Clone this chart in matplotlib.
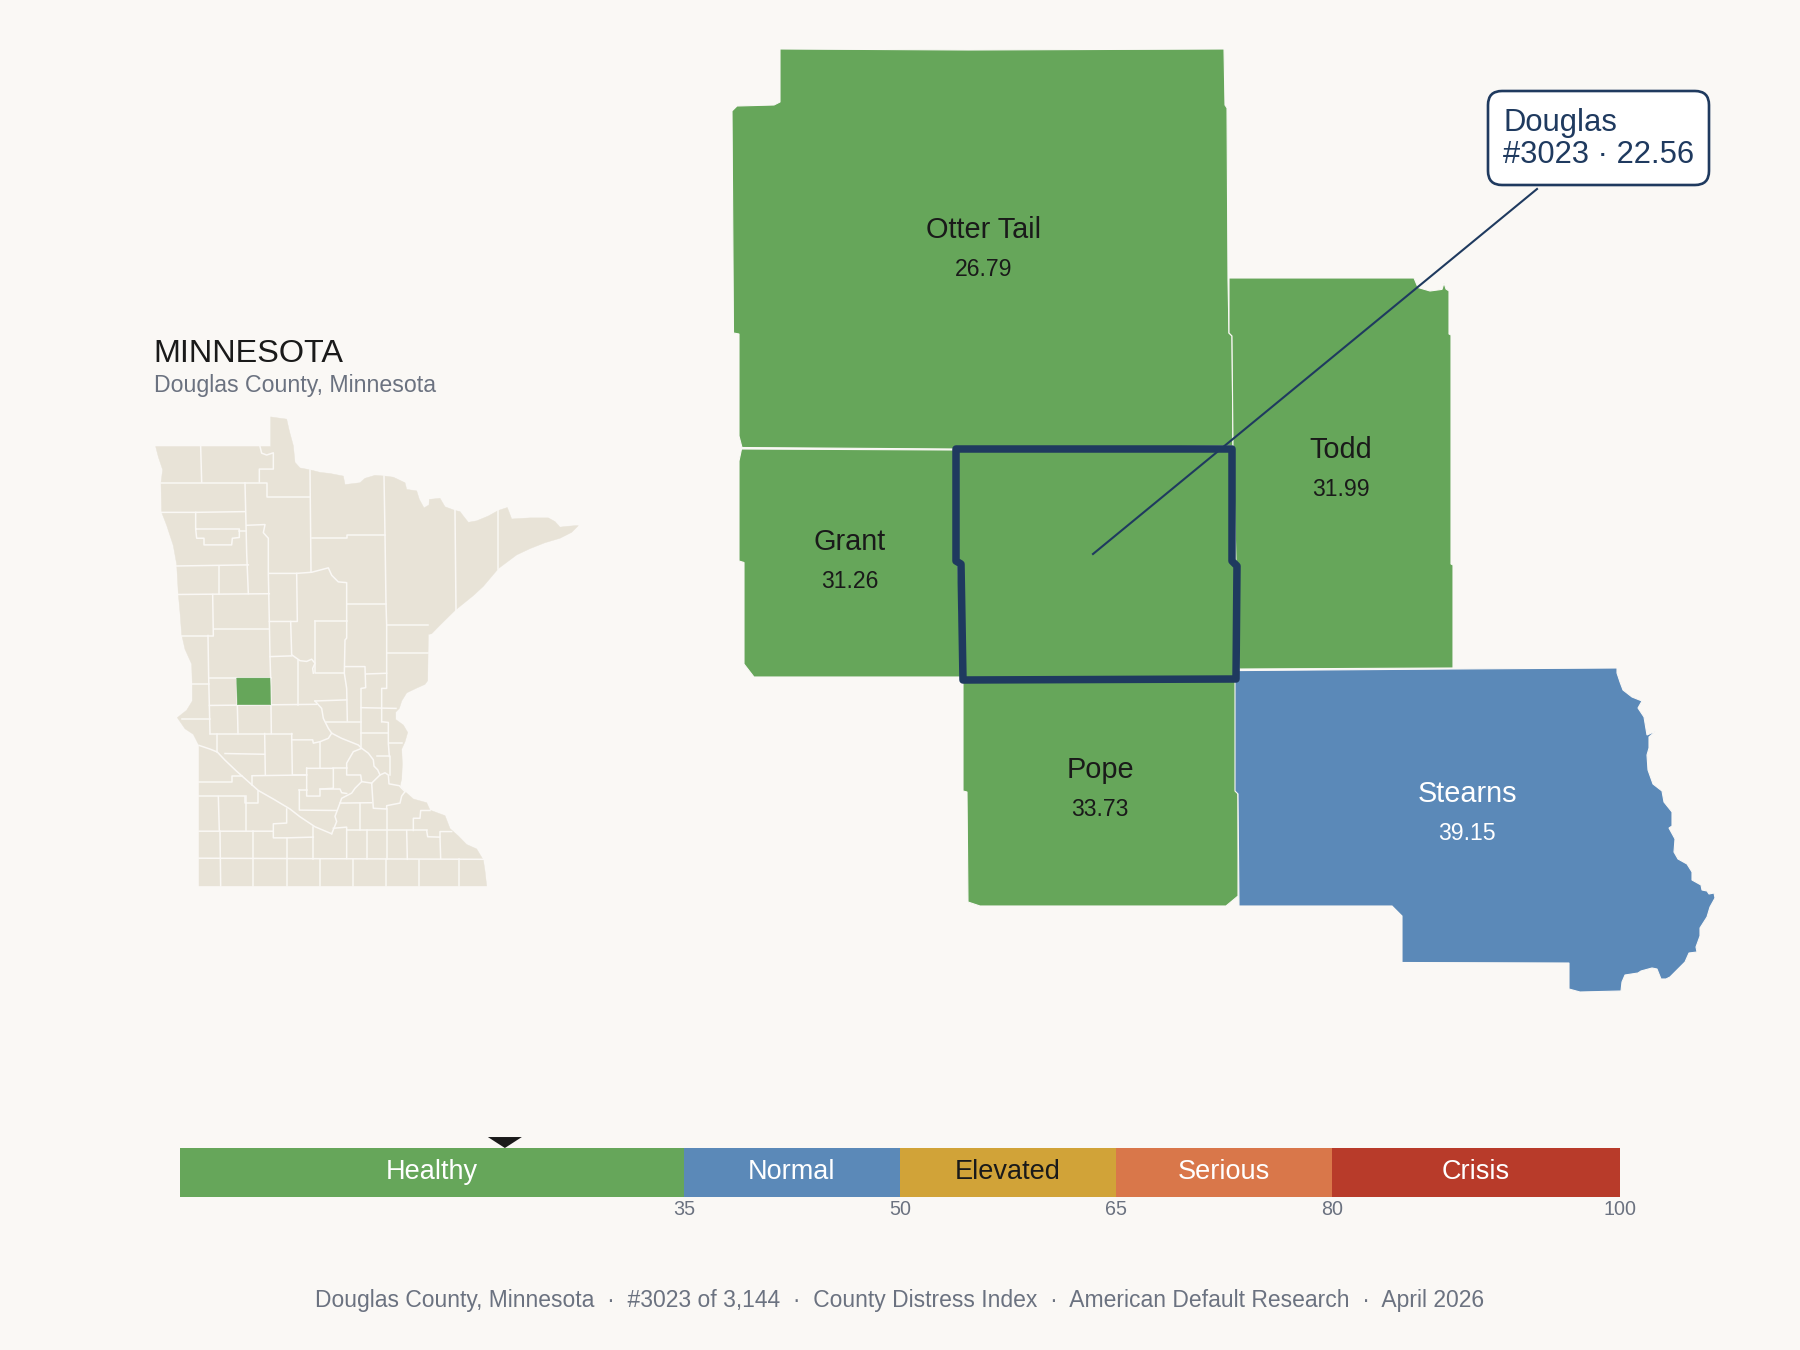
import matplotlib
matplotlib.use('Agg')
import matplotlib.pyplot as plt
from matplotlib.patches import FancyBboxPatch

plt.rcParams['font.family'] = ['Liberation Sans', 'DejaVu Sans']

BG = '#faf8f5'
LAND = '#e8e3d7'
GREEN = '#66a65a'
BLUE = '#5b89b8'
GOLD = '#d1a338'
ORANGE = '#d9774a'
RED = '#b83b2a'
NAVY = '#1f3a5f'
GRAY = '#6b7280'
INK = '#1a1a1a'

# ---------- distress scale ----------
band_names = ['Healthy', 'Normal', 'Elevated', 'Serious', 'Crisis']
band_breaks = [0, 35, 50, 65, 80, 100]
band_colors = [GREEN, BLUE, GOLD, ORANGE, RED]
band_text = ['white', 'white', INK, 'white', 'white']
douglas_score = 22.56

# ---------- neighbouring counties (outline vertices) ----------
otter_tail = [(780, 49), (968, 50), (1224, 49), (1225, 105), (1227, 108), (1228, 280), (1229, 333),
              (1232, 336), (1233, 446), (955, 449), (742, 447.5), (739, 436), (739, 334), (733.5, 333),
              (732, 111), (737, 106), (774, 105), (780, 102)]
todd = [(1229, 278), (1414, 278), (1418, 287.5), (1430, 291), (1442, 289.4), (1444, 283), (1446, 289),
        (1449, 291), (1449, 334), (1451, 335), (1451, 564), (1453, 565), (1453, 668), (1239, 669),
        (1236, 561), (1233, 446), (1232, 336), (1229, 333)]
grant = [(741.5, 449), (955, 450), (958, 561), (961, 677), (754, 677), (744, 664), (744, 562.5),
         (739, 561), (739, 461)]
douglas = [(956, 449), (1232, 449), (1232, 561), (1237, 566), (1236, 679), (963, 680), (961, 564), (956, 561)]
pope = [(963, 681), (1236, 681), (1238, 799), (1238, 896), (1226, 906), (1102, 906), (980, 906),
        (968, 902), (967, 792), (963, 791)]
stearns = [(1235, 670.6), (1454, 669), (1617, 668), (1617, 673), (1620, 682), (1623, 690), (1632, 697),
           (1642, 701), (1638, 708), (1644, 717), (1647, 735), (1656, 731), (1649, 737), (1649, 748),
           (1647, 755), (1648, 770), (1653, 784), (1662, 791), (1664, 802), (1672, 812), (1672, 826),
           (1669, 828), (1675, 839), (1674, 852), (1678, 859), (1687, 864), (1692, 872), (1692, 880),
           (1701, 885), (1702, 890), (1707, 891), (1709, 894), (1714, 893), (1715, 898), (1710, 907),
           (1707, 917), (1700, 928), (1700, 936), (1696, 947), (1697, 952), (1689, 953), (1685, 962),
           (1670, 977), (1666, 979), (1661, 979), (1657, 969), (1652, 968), (1641, 971), (1638, 973),
           (1625, 975), (1622, 982), (1621, 991), (1580, 992), (1569, 989), (1569, 963), (1402, 962.5),
           (1402, 916), (1392, 906), (1239, 906), (1238, 794), (1235, 791)]

county_names = ['Otter Tail', 'Todd', 'Grant', 'Pope', 'Stearns']
county_scores = [26.79, 31.99, 31.26, 33.73, 39.15]
county_shapes = [otter_tail, todd, grant, pope, stearns]
county_colors = [GREEN, GREEN, GREEN, GREEN, BLUE]
county_text = [INK, INK, INK, INK, 'white']
county_centers = [(984, 230), (1341, 450.5), (850, 542), (1100, 770.5), (1467, 794)]

# ---------- state locator map (map units) ----------
state_outline = [(77, 342), (422, 342), (422, 262), (445, 265), (470, 268), (478, 300), (490, 340), (495, 385),
                 (510, 400), (540, 405), (570, 412), (600, 415), (640, 422), (645, 445), (690, 440), (705, 428),
                 (735, 420), (765, 422), (790, 425), (825, 440), (830, 458), (860, 462), (868, 485), (882, 508),
                 (897, 500), (898, 485), (930, 482), (945, 505), (975, 515), (990, 518), (1000, 530), (1015, 547),
                 (1040, 543), (1075, 530), (1105, 515), (1132, 507), (1145, 538), (1200, 535), (1255, 535),
                 (1275, 545), (1290, 560), (1310, 558), (1335, 556), (1345, 556), (1325, 574), (1290, 590),
                 (1245, 602), (1200, 618), (1160, 635), (1105, 672), (1060, 720), (1030, 745), (975, 785),
                 (930, 825), (905, 848), (895, 850), (893, 975), (885, 985), (860, 995), (830, 1008), (815, 1030),
                 (808, 1050), (797, 1060), (797, 1080), (820, 1095), (833, 1115), (825, 1140), (815, 1160),
                 (817, 1200), (815, 1240), (810, 1260), (825, 1275), (850, 1295), (890, 1305), (900, 1325),
                 (945, 1340), (960, 1375), (985, 1395), (1010, 1418), (1040, 1430), (1060, 1460), (1065, 1490),
                 (1070, 1530), (207, 1530), (207, 1150), (190, 1120), (165, 1105), (142, 1075), (170, 1055),
                 (187, 1030), (187, 985), (185, 930), (165, 890), (155, 850), (150, 790), (145, 740), (140, 660),
                 (130, 610), (110, 555), (95, 520), (93, 440), (98, 405), (85, 370)]
douglas_on_state = [(320, 968), (420, 968), (422, 1040), (322, 1040)]

county_lines = [
    [(212, 342), (215, 438)],
    [(93, 440), (412, 440), (412, 478), (540, 478)],
    [(388, 438), (388, 403), (430, 403), (430, 359), (410, 365), (395, 360), (390, 342)],
    [(540, 405), (543, 680)],
    [(345, 440), (348, 552), (350, 630), (355, 740)],
    [(95, 520), (197, 520), (345, 518)],
    [(197, 520), (197, 565), (200, 590), (222, 590), (222, 608), (305, 608), (307, 590), (328, 588), (328, 565), (200, 565)],
    [(328, 570), (348, 570)],
    [(350, 555), (405, 553), (400, 575), (415, 590), (415, 685), (418, 815), (420, 910), (422, 968), (424, 1118)],
    [(140, 665), (355, 662)],
    [(268, 665), (268, 740)],
    [(145, 742), (418, 740)],
    [(248, 742), (250, 853)],
    [(155, 853), (250, 853)],
    [(252, 835), (418, 835)],
    [(234, 853), (236, 968), (238, 1040), (240, 1118)],
    [(236, 968), (422, 968)],
    [(187, 985), (236, 985)],
    [(320, 968), (322, 1040), (324, 1118)],
    [(238, 1042), (560, 1039)],
    [(155, 1080), (240, 1080)],
    [(240, 1118), (485, 1118)],
    [(207, 1150), (240, 1160), (262, 1168), (285, 1190), (320, 1220), (345, 1240), (385, 1272), (430, 1295),
     (480, 1322), (510, 1343), (540, 1361), (555, 1370), (605, 1389)],
    [(262, 1118), (262, 1168)],
    [(285, 1172), (404, 1174)],
    [(404, 1118), (406, 1230)],
    [(485, 1118), (487, 1230), (530, 1230)],
    [(485, 1135), (548, 1135), (550, 1144), (570, 1140), (595, 1131), (605, 1117)],
    [(570, 1140), (570, 1212)],
    [(530, 1212), (610, 1212), (610, 1266), (570, 1268), (570, 1287), (530, 1287), (530, 1212)],
    [(610, 1212), (650, 1212)],
    [(570, 1268), (630, 1268), (635, 1278), (650, 1280)],
    [(367, 1232), (530, 1230)],
    [(367, 1232), (367, 1258)],
    [(207, 1250), (305, 1250), (305, 1232), (335, 1232)],
    [(207, 1288), (345, 1288), (345, 1305), (385, 1305), (385, 1272)],
    [(265, 1288), (268, 1382)],
    [(348, 1288), (348, 1382)],
    [(207, 1382), (430, 1382), (430, 1400), (470, 1400), (550, 1398)],
    [(470, 1322), (470, 1360), (430, 1362), (430, 1382)],
    [(508, 1270), (508, 1325), (620, 1326)],
    [(508, 1270), (530, 1270)],
    [(555, 1030), (650, 1027)],
    [(555, 1030), (575, 1050), (580, 1077), (595, 1104), (605, 1117), (635, 1131), (685, 1149), (695, 1158),
     (715, 1171), (730, 1189), (732, 1206), (743, 1216), (750, 1230), (765, 1224), (775, 1230), (777, 1254),
     (808, 1259), (825, 1275)],
    [(588, 1086), (693, 1086)],
    [(693, 1048), (798, 1050)],
    [(693, 1117), (775, 1117)],
    [(755, 1086), (775, 1088), (775, 1144), (778, 1180)],
    [(778, 1144), (815, 1144)],
    [(740, 1180), (780, 1180), (780, 1230)],
    [(750, 1230), (725, 1252), (730, 1320), (770, 1322), (770, 1313), (810, 1306), (815, 1287), (825, 1275)],
    [(695, 1158), (670, 1167), (650, 1198), (650, 1230), (692, 1230), (695, 1248)],
    [(725, 1252), (695, 1248), (675, 1266), (665, 1279), (635, 1293), (630, 1306), (725, 1305)],
    [(630, 1306), (615, 1342), (620, 1356), (605, 1389)],
    [(550, 1370), (550, 1456)],
    [(610, 1374), (650, 1371), (650, 1456)],
    [(690, 1306), (690, 1380)],
    [(650, 1380), (890, 1380)],
    [(770, 1322), (770, 1456)],
    [(850, 1380), (850, 1347), (870, 1347), (872, 1326), (900, 1326)],
    [(890, 1380), (893, 1397), (930, 1398), (930, 1383), (965, 1383)],
    [(930, 1398), (932, 1456)],
    [(710, 1380), (710, 1456)],
    [(830, 1380), (832, 1458)],
    [(207, 1455), (1060, 1458)],
    [(270, 1382), (272, 1530)],
    [(370, 1382), (370, 1530)],
    [(470, 1400), (470, 1530)],
    [(571, 1458), (571, 1530)],
    [(670, 1458), (670, 1530)],
    [(769, 1458), (769, 1530)],
    [(868, 1460), (868, 1530)],
    [(988, 1458), (988, 1530)],
    [(418, 685), (500, 685), (545, 682), (595, 670), (605, 690), (625, 708), (650, 710), (650, 860), (645, 865),
     (643, 955), (650, 996), (652, 1084)],
    [(500, 685), (502, 815), (418, 815)],
    [(482, 815), (485, 905), (510, 921), (530, 923), (545, 917), (555, 928), (548, 942), (550, 955)],
    [(420, 910), (485, 908)],
    [(505, 918), (505, 1040)],
    [(555, 815), (650, 815)],
    [(555, 815), (555, 955), (643, 955)],
    [(650, 767), (768, 767)],
    [(545, 590), (650, 590), (650, 580), (764, 580)],
    [(762, 422), (765, 580), (768, 767), (770, 825), (770, 996), (755, 996), (755, 1086)],
    [(770, 825), (893, 825)],
    [(770, 899), (893, 899)],
    [(645, 937), (705, 937), (707, 994), (693, 996), (693, 1153)],
    [(707, 957), (770, 955)],
    [(975, 515), (978, 785)],
    [(1105, 515), (1105, 672)],
]

title = 'MINNESOTA'
subtitle = 'Douglas County, Minnesota'
callout = 'Douglas\n#3023 · 22.56'
footer = ('Douglas County, Minnesota  ·  #3023 of 3,144  ·  County Distress Index  ·  '
          'American Default Research  ·  April 2026')

W, H = 1800, 1350
fig = plt.figure(figsize=(W / 100, H / 100), dpi=100, facecolor=BG)


def px_axes(x, y, w, h):
    # axes placed by its pixel rectangle, y measured from the top
    return fig.add_axes([x / W, 1 - (y + h) / H, w / W, h / H])


# main canvas for the neighbour map
ax = px_axes(0, 0, W, H)
ax.set_xlim(0, W)
ax.set_ylim(H, 0)
ax.axis('off')

for shape, col in zip(county_shapes, county_colors):
    xs, ys = zip(*shape)
    ax.fill(xs, ys, facecolor=col, edgecolor=BG, lw=0.8, zorder=2)
xs, ys = zip(*douglas)
ax.fill(xs, ys, facecolor=GREEN, edgecolor=NAVY, lw=5.4, joinstyle='round', zorder=3)

for name, score, (cx, cy), col in zip(county_names, county_scores, county_centers, county_text):
    ax.text(cx, cy, name, ha='center', va='center', fontsize=20.8, color=col, zorder=5)
    ax.text(cx, cy + 39, f'{score:.2f}', ha='center', va='center', fontsize=16.6, color=col, zorder=5)

# callout
ax.plot([1093, 1537], [554, 189], color=NAVY, lw=1.5, zorder=4)
box = FancyBboxPatch((1488, 91), 221, 94, boxstyle='round,pad=0,rounding_size=14',
                     facecolor='white', edgecolor=NAVY, lw=1.9, zorder=6)
ax.add_patch(box)
ax.text(1503, 139, callout, ha='left', va='center', fontsize=22.3, color=NAVY,
        linespacing=1.1, zorder=7)

# titles
ax.text(153.5, 362, title, ha='left', va='baseline', fontsize=23.3, color=INK)
ax.text(153.5, 392, subtitle, ha='left', va='baseline', fontsize=16.7, color=GRAY)
ax.text(900, 1300, footer, ha='center', va='center', fontsize=16.5, color=GRAY)

# state locator
ax_state = px_axes(130, 320, 480, 580)
ax_state.set_xlim(0, 1440)
ax_state.set_ylim(1568, 0)
ax_state.axis('off')
xs, ys = zip(*state_outline)
ax_state.fill(xs, ys, facecolor=LAND, edgecolor=LAND, lw=0.3)
for seg in county_lines:
    xs, ys = zip(*seg)
    ax_state.plot(xs, ys, color=BG, lw=1.1, solid_joinstyle='round')
xs, ys = zip(*douglas_on_state)
ax_state.fill(xs, ys, facecolor=GREEN, edgecolor=GREEN, lw=0.3, zorder=3)

# scale bar
ax_bar = px_axes(180, 1148, 1440, 49)
ax_bar.set_xlim(0, 100)
ax_bar.set_ylim(0, 1)
for name, lo, hi, col, tcol in zip(band_names, band_breaks[:-1], band_breaks[1:], band_colors, band_text):
    ax_bar.barh(0.5, hi - lo, left=lo, height=1, color=col, lw=0)
    ax_bar.text((lo + hi) / 2, 0.505, name, ha='center', va='center', fontsize=19.5, color=tcol)
ax_bar.fill([douglas_score - 1.18, douglas_score + 1.18, douglas_score], [1.224, 1.224, 1.0],
            color=INK, clip_on=False, lw=0)
ax_bar.set_xticks(band_breaks[1:])
ax_bar.set_xticklabels([str(b) for b in band_breaks[1:]], fontsize=14.2, color=GRAY)
ax_bar.tick_params(axis='x', length=0, pad=2.5)
ax_bar.set_yticks([])
for sp in ax_bar.spines.values():
    sp.set_visible(False)

fig.savefig('out.png', dpi=100, facecolor=BG)
